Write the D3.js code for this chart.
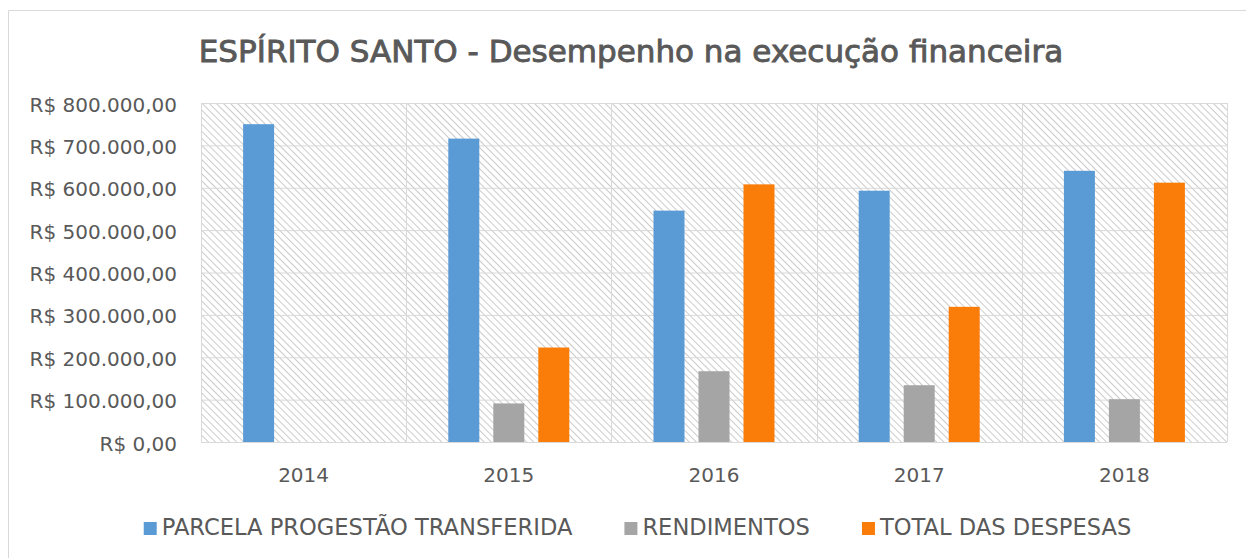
<!DOCTYPE html>
<html>
<head>
<meta charset="utf-8">
<script src="https://cdn.jsdelivr.net/npm/d3@7"></script>
<style>
	body { margin: 0; background: #fff; }
	svg { display: block; font-family: 'DejaVu Sans', sans-serif; }
	text { fill: #595959; }
</style>
</head>
<body>
<svg></svg>
<script>
const years = ['2014', '2015', '2016', '2017', '2018'];
const seriesNames = ['PARCELA PROGESTÃO TRANSFERIDA', 'RENDIMENTOS', 'TOTAL DAS DESPESAS'];
const parcela = [750000, 716000, 546000, 593000, 640000];
const rendimentos = [null, 91000, 167000, 134000, 101000];
const despesas = [null, 223000, 608000, 319000, 612000];
const yTicks = [0, 100000, 200000, 300000, 400000, 500000, 600000, 700000, 800000];
const title = 'ESPÍRITO SANTO - Desempenho na execução financeira';

const colors = ['#5B9BD5', '#A5A5A5', '#FA7D0A'];
const seriesValues = [parcela, rendimentos, despesas];

const width = 1246;
const height = 558;
const margin = { top: 103, right: 19, bottom: 116, left: 201 };
const innerWidth = width - margin.left - margin.right;
const innerHeight = height - margin.top - margin.bottom;
const fontFamily = "'DejaVu Sans', sans-serif";

const ptBR = d3.formatLocale({
	decimal: ',',
	thousands: '.',
	grouping: [3],
	currency: ['R$ ', '']
});
const money = ptBR.format('$,.2f');

const svg = d3.select('svg')
	.attr('width', width)
	.attr('height', height);

// hatch fill of the plot area
const pattern = svg.append('defs').append('pattern')
	.attr('id', 'hatch')
	.attr('patternUnits', 'userSpaceOnUse')
	.attr('width', 5)
	.attr('height', 5)
	.attr('patternTransform', 'rotate(-45)');
pattern.append('line')
	.attr('x1', 0.5).attr('y1', 0)
	.attr('x2', 0.5).attr('y2', 5)
	.attr('stroke', '#cbcbcb')
	.attr('stroke-width', 1);

// chart border
svg.append('path')
	.attr('d', `M8.5,${height}V10.5H${width}`)
	.attr('fill', 'none')
	.attr('stroke', '#d9d9d9');

svg.append('text')
	.attr('x', 631)
	.attr('y', 62)
	.attr('text-anchor', 'middle')
	.attr('font-size', 31)
	.style('stroke', '#595959')
	.style('stroke-width', 0.9)
	.text(title);

const rows = years.map((year, i) => ({
	year,
	values: seriesNames.map((name, j) => ({ name, index: j, value: seriesValues[j][i] }))
}));

const xScale = d3.scaleBand()
	.domain(years)
	.range([0, innerWidth])
	.padding(0);

const xInner = d3.scaleBand()
	.domain(seriesNames)
	.range([xScale.bandwidth() / 2 - 67.5, xScale.bandwidth() / 2 + 67.5])
	.paddingInner(0.311)
	.paddingOuter(0.1555);

const yScale = d3.scaleLinear()
	.domain([0, 800000])
	.range([innerHeight, 0]);

const g = svg.append('g')
	.attr('transform', `translate(${margin.left},${margin.top})`);

g.append('rect')
	.attr('width', innerWidth)
	.attr('height', innerHeight)
	.attr('fill', 'url(#hatch)');

const yAxis = d3.axisLeft(yScale)
	.tickValues(yTicks)
	.tickSize(-innerWidth)
	.tickPadding(24)
	.tickFormat(money);

const yAxisG = g.append('g')
	.call(yAxis)
	.attr('font-family', fontFamily)
	.attr('font-size', 20);
yAxisG.select('.domain').remove();
yAxisG.selectAll('line').attr('stroke', '#d9d9d9');
yAxisG.selectAll('text')
	.attr('dy', '0.4em')
	.style('fill', '#595959');

// category separators
g.selectAll('line.sep').data(d3.range(years.length + 1))
	.enter().append('line')
		.attr('class', 'sep')
		.attr('x1', i => Math.round(i * xScale.step()) + 0.5)
		.attr('x2', i => Math.round(i * xScale.step()) + 0.5)
		.attr('y1', 0)
		.attr('y2', innerHeight)
		.attr('stroke', '#d9d9d9');

const groups = g.selectAll('g.year').data(rows)
	.enter().append('g')
		.attr('class', 'year')
		.attr('transform', d => `translate(${xScale(d.year)},0)`);

groups.selectAll('rect').data(d => d.values.filter(v => v.value != null))
	.enter().append('rect')
		.attr('x', d => xInner(d.name))
		.attr('width', xInner.bandwidth())
		.attr('y', d => yScale(d.value))
		.attr('height', d => innerHeight - yScale(d.value))
		.attr('fill', d => colors[d.index]);

const xAxis = d3.axisBottom(xScale)
	.tickSize(0)
	.tickPadding(26);

const xAxisG = g.append('g')
	.attr('transform', `translate(0,${innerHeight})`)
	.call(xAxis)
	.attr('font-family', fontFamily)
	.attr('font-size', 20);
xAxisG.select('.domain').remove();
xAxisG.selectAll('text')
	.style('fill', '#595959');

// legend
const legend = svg.append('g');
const items = legend.selectAll('g').data(seriesNames)
	.enter().append('g');
items.append('rect')
	.attr('y', 522)
	.attr('width', 13)
	.attr('height', 13)
	.attr('fill', (d, i) => colors[i]);
items.append('text')
	.attr('x', 18)
	.attr('y', 535)
	.attr('font-size', 22.6)
	.text(d => d);

let cursor = 0;
const offsets = [];
items.each(function() {
	offsets.push(cursor);
	const w = d3.select(this).select('text').node().getComputedTextLength();
	cursor += 18 + w + 52;
});
const legendWidth = cursor - 52;
const legendStart = 637.5 - legendWidth / 2;
items.attr('transform', (d, i) => `translate(${legendStart + offsets[i]},0)`);
</script>
</body>
</html>
